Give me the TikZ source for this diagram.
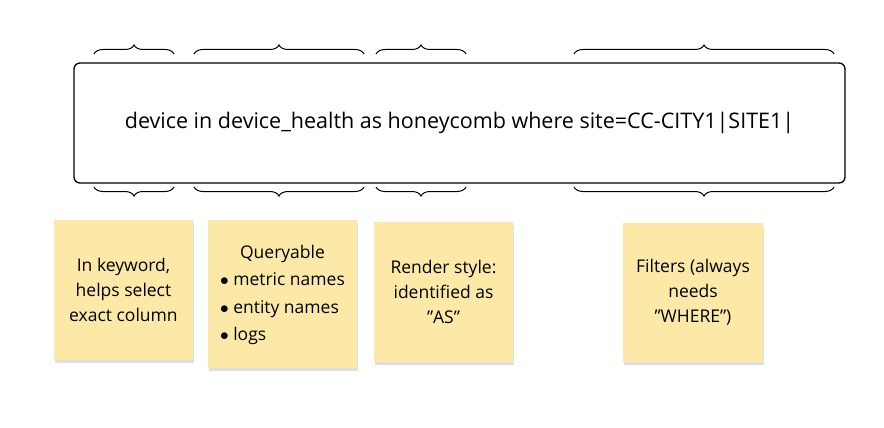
\documentclass[tikz,border=0pt]{standalone}
\usepackage{fontspec}
\setmainfont{Open Sans}
\usetikzlibrary{decorations.pathreplacing,shadows}
\definecolor{sticky}{HTML}{FCE9A8}
\newcommand{\dq}{\symbol{34}}
\begin{document}
\begin{tikzpicture}[x=1pt,y=1pt,
  brc/.style={draw=black,line width=1pt,decorate,decoration={brace,amplitude=9pt}},
  note/.style={fill=sticky,draw=none,minimum width=139pt,align=center,font=\fontsize{17.5}{25}\selectfont,
    drop shadow={shadow xshift=1pt,shadow yshift=-3pt,opacity=0.25}}]
\useasboundingbox (0,0) rectangle (884,-428);
\fill[white] (0,0) rectangle (884,-428);
\node[draw=black,line width=1.3pt,rounded corners=6pt,minimum width=771pt,minimum height=120pt,
  font=\fontsize{21.5}{26}\selectfont] (q) at (459.5,-123)
  {device in device\_health as honeycomb where site=CC-CITY1\textbar SITE1\textbar};
% top braces
\draw[brc] (94,-54) -- (174,-54);
\draw[brc] (194,-54) -- (364,-54);
\draw[brc] (376,-54) -- (466,-54);
\draw[brc] (574,-54) -- (834,-54);
% bottom braces
\draw[brc] (174,-187) -- (94,-187);
\draw[brc] (364,-187) -- (194,-187);
\draw[brc] (466,-187) -- (376,-187);
\draw[brc] (834,-187) -- (574,-187);
\node[note,minimum width=139pt,minimum height=140pt] (n1) at (123.5,-290) {In keyword,\\helps select\\exact column};
\node[note,minimum width=149pt,minimum height=148pt] (n2) at (282.5,-294) {\renewcommand{\arraystretch}{1.1}\begin{tabular}{@{}l@{}}\multicolumn{1}{@{}c@{}}{Queryable}\\$\bullet$ metric names\\$\bullet$ entity names\\$\bullet$ logs\end{tabular}};
\node[note,minimum width=139pt,minimum height=140pt] (n3) at (443.5,-292) {Render style:\\identified as\\\dq AS\dq};
\node[note,minimum width=140pt,minimum height=139pt] (n4) at (693,-292.5) {Filters (always\\needs\\\dq WHERE\dq)};
\end{tikzpicture}
\end{document}
